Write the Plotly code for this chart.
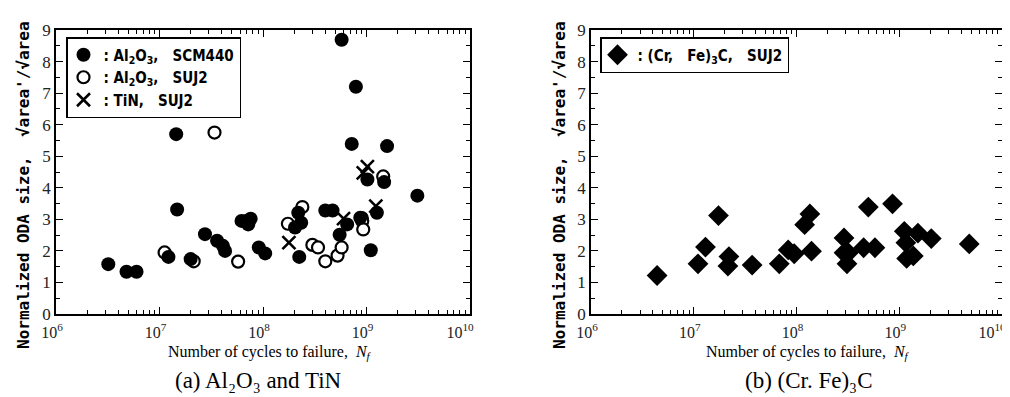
import plotly.graph_objects as go

# ---- data (a) Al2O3 and TiN ----
scm_x = [3.2e6, 4.8e6, 6.0e6, 1.22e7, 1.45e7, 1.48e7, 2.0e7, 2.75e7, 3.6e7, 4.1e7, 4.3e7,
         6.2e7, 6.9e7, 7.6e7, 7.2e7, 9.1e7, 1.05e8, 2.24e8, 2.19e8, 2.04e8, 2.34e8,
         4.0e8, 4.7e8, 5.5e8, 6.5e8, 8.7e8, 1.10e9, 1.02e9, 1.48e9, 1.26e9, 3.1e9,
         5.75e8, 7.9e8, 7.2e8, 1.58e9]
scm_y = [1.58, 1.34, 1.34, 1.81, 5.70, 3.31, 1.74, 2.53, 2.32, 2.16, 2.00,
         2.95, 2.95, 3.02, 2.84, 2.11, 1.92, 1.81, 3.21, 2.74, 2.89,
         3.28, 3.28, 2.51, 2.84, 3.05, 2.02, 4.26, 4.18, 3.21, 3.75,
         8.69, 7.20, 5.39, 5.32]

suj_x = [1.12e7, 2.14e7, 3.4e7, 5.75e7, 1.74e8, 2.4e8, 3.0e8, 3.4e8, 4.0e8,
         5.25e8, 5.75e8, 9.0e8, 9.1e8, 9.3e8, 1.45e9]
suj_y = [1.95, 1.67, 5.75, 1.66, 2.86, 3.39, 2.19, 2.11, 1.67,
         1.85, 2.11, 3.04, 2.95, 2.68, 4.36]

tin_x = [1.78e8, 6.0e8, 1.02e9, 9.3e8, 1.23e9]
tin_y = [2.26, 3.02, 4.67, 4.47, 3.42]

# ---- data (b) (Cr, Fe)3C ----
cfc_x = [4.4e6, 1.1e7, 1.3e7, 1.74e7, 2.15e7, 2.2e7, 3.7e7, 6.8e7, 8.3e7, 9.5e7,
         1.2e8, 1.35e8, 1.4e8, 2.9e8, 2.9e8, 3.2e8, 3.1e8, 4.5e8, 5.0e8, 5.8e8,
         8.6e8, 1.12e9, 1.16e9, 1.18e9, 1.37e9, 1.52e9, 2.05e9, 4.8e9]
cfc_y = [1.22, 1.59, 2.12, 3.12, 1.52, 1.82, 1.55, 1.59, 2.03, 1.91,
         2.83, 3.17, 1.99, 2.41, 1.94, 1.94, 1.59, 2.10, 3.39, 2.10,
         3.49, 2.62, 2.26, 1.76, 1.84, 2.56, 2.39, 2.22]

x_ticks = [1e6, 1e7, 1e8, 1e9, 1e10]
x_tick_text = ["10<sup>6</sup>", "10<sup>7</sup>", "10<sup>8</sup>", "10<sup>9</sup>",
               "10<sup>10</sup>&nbsp;&nbsp;&nbsp;"]
x_minor = [m * 10 ** e for e in range(6, 10) for m in range(2, 10)]

SERIF = "Liberation Serif, Times New Roman, serif"
GOTH = "Liberation Sans Narrow, DejaVu Sans Condensed, Liberation Sans, sans-serif"
MONO = "DejaVu Sans Mono, Liberation Mono, monospace"

fig = go.Figure()

fig.add_trace(go.Scatter(x=suj_x, y=suj_y, mode="markers", xaxis="x", yaxis="y",
                         name=": Al<sub>2</sub>O<sub>3</sub>,   SUJ2", legend="legend", legendrank=2,
                         marker=dict(symbol="circle", size=12, color="white",
                                     line=dict(color="black", width=2.2))))
fig.add_trace(go.Scatter(x=scm_x, y=scm_y, mode="markers", xaxis="x", yaxis="y",
                         name=": Al<sub>2</sub>O<sub>3</sub>,   SCM440", legend="legend", legendrank=1,
                         marker=dict(symbol="circle", size=14, color="black",
                                     line=dict(color="black", width=0))))
fig.add_trace(go.Scatter(x=tin_x, y=tin_y, mode="markers", xaxis="x", yaxis="y",
                         name=": TiN,   SUJ2", legend="legend", legendrank=3,
                         marker=dict(symbol="x-thin", size=13, color="black",
                                     line=dict(color="black", width=2.6))))
fig.add_trace(go.Scatter(x=cfc_x, y=cfc_y, mode="markers", xaxis="x2", yaxis="y2",
                         name=": (Cr,   Fe)<sub>3</sub>C,   SUJ2", legend="legend2",
                         marker=dict(symbol="diamond", size=16, color="black",
                                     line=dict(color="black", width=0))))

def xax(domain, anchor):
    return dict(type="log", range=[6, 10], domain=domain, anchor=anchor, automargin=False,
                tickmode="array", tickvals=x_ticks, ticktext=x_tick_text,
                ticks="inside", ticklen=7, tickwidth=1.2, tickcolor="black",
                minor=dict(tickmode="array", tickvals=x_minor, ticks="inside",
                           ticklen=4, tickwidth=1, tickcolor="black"),
                showline=True, linecolor="black", linewidth=1.5, mirror="ticks",
                showgrid=False, zeroline=False, ticklabelstandoff=3, ticklabelshift=-4,
                ticklabeloverflow="allow",
                tickfont=dict(family=SERIF, size=16, color="#222"))

def yax(domain, anchor):
    return dict(range=[0, 9], domain=domain, anchor=anchor, dtick=1, tick0=0, automargin=False,
                ticks="inside", ticklen=7, tickwidth=1.2, tickcolor="black",
                minor=dict(dtick=0.5, tick0=0, ticks="inside", ticklen=4, tickwidth=1,
                           tickcolor="black"),
                showline=True, linecolor="black", linewidth=1.5, mirror="ticks",
                showgrid=False, zeroline=False, ticklabeloverflow="allow",
                tickfont=dict(family=SERIF, size=17, color="#222"))

W, H = 1010, 397
ytop, ybot = 1 - 22 / H, 1 - 306 / H

fig.update_layout(
    width=W, height=H, margin=dict(l=0, r=0, t=0, b=0, autoexpand=False),
    paper_bgcolor="white", plot_bgcolor="white",
    xaxis=xax([48 / W, 462 / W], "y"),
    yaxis=yax([ybot, ytop], "x"),
    xaxis2=xax([583 / W, 994 / W], "y2"),
    yaxis2=yax([ybot, ytop], "x2"),
    legend=dict(x=58 / W, y=1 - 29 / H, xanchor="left", yanchor="top",
                bordercolor="black", borderwidth=1.5, bgcolor="white",
                font=dict(family=GOTH, size=15, color="black", weight="bold"),
                tracegroupgap=0, itemwidth=30, traceorder="normal",
                indentation=-4),
    legend2=dict(x=592 / W, y=1 - 29 / H, xanchor="left", yanchor="top",
                 bordercolor="black", borderwidth=1.5, bgcolor="white",
                 font=dict(family=GOTH, size=15, color="black", weight="bold"),
                 itemwidth=30, indentation=-4),
    showlegend=True,
)

ytitle = "Normalized ODA size,  √area'/√area"
for xc in (15, 551):
    fig.add_annotation(text=ytitle, xref="paper", yref="paper",
                       x=xc / W, y=1 - 177 / H, textangle=-90, showarrow=False,
                       xanchor="center", yanchor="middle",
                       font=dict(family=MONO, size=16, color="black", weight="bold"))

xtitle = "Number of cycles to failure,  <i>N<sub>f</sub></i>"
for xc in (262, 800):
    fig.add_annotation(text=xtitle, xref="paper", yref="paper",
                       x=xc / W, y=1 - 344 / H, showarrow=False,
                       xanchor="center", yanchor="middle",
                       font=dict(family=SERIF, size=16, color="black"))

captions = [("(a) Al₂O₃ and TiN", 250), ("(b) (Cr. Fe)₃C", 800)]
for txt, xc in captions:
    fig.add_annotation(text=txt, xref="paper", yref="paper",
                       x=xc / W, y=1 - 372 / H, showarrow=False,
                       xanchor="center", yanchor="middle",
                       font=dict(family=SERIF, size=23, color="black"))

fig.write_html("out.html")
